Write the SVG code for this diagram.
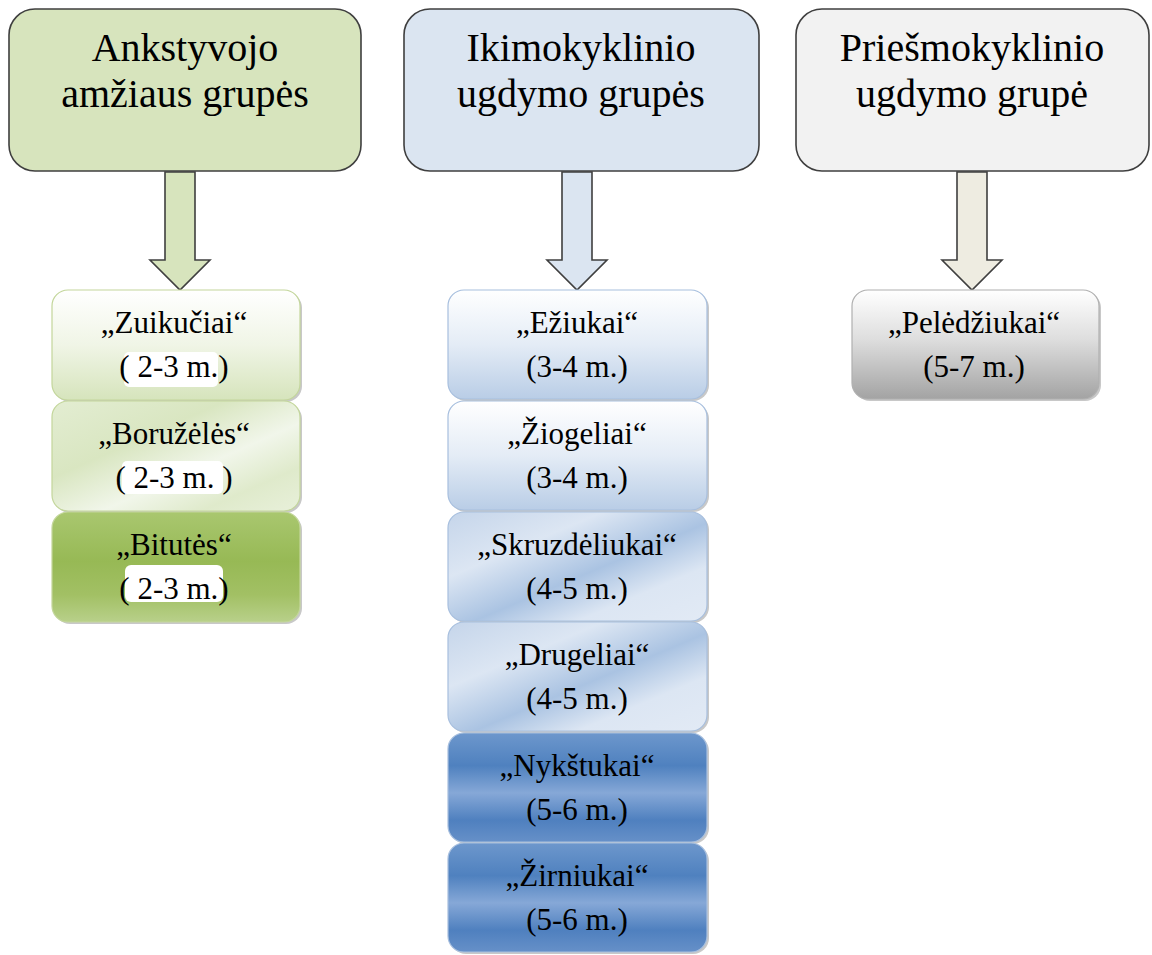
<svg xmlns="http://www.w3.org/2000/svg" width="1152" height="955" viewBox="0 0 1152 955" font-family="Times New Roman">
<defs>
<style>
.hdr{stroke:#3f3f3f;stroke-width:1.6}
.arr{stroke:#3f3f3f;stroke-width:1.6}
.sh{fill:#9a9a9a;opacity:0.55}
.bl{stroke:#c3d69b;stroke-width:1.2}
.bb{stroke:#a7bfde;stroke-width:1.2}
.bg{stroke:#b0b0b0;stroke-width:1.2}
</style>
<linearGradient id="gL1" x1="0" y1="0" x2="0" y2="1">
<stop offset="0" stop-color="#ffffff"/><stop offset="0.5" stop-color="#f0f5e6"/><stop offset="1" stop-color="#d6e4bc"/>
</linearGradient>
<linearGradient id="gL2" x1="0" y1="0" x2="1" y2="1">
<stop offset="0" stop-color="#e3edd2"/><stop offset="0.35" stop-color="#d9e6c1"/><stop offset="0.6" stop-color="#f1f6ea"/><stop offset="0.8" stop-color="#dfeacb"/><stop offset="1" stop-color="#e8f0da"/>
</linearGradient>
<linearGradient id="gL3" x1="0" y1="0" x2="0" y2="1">
<stop offset="0" stop-color="#a9c76f"/><stop offset="0.45" stop-color="#97b955"/><stop offset="0.75" stop-color="#a2c064"/><stop offset="1" stop-color="#b8d08a"/>
</linearGradient>
<linearGradient id="gB1" x1="0" y1="0" x2="0" y2="1">
<stop offset="0" stop-color="#ffffff"/><stop offset="0.5" stop-color="#e4ecf6"/><stop offset="1" stop-color="#b9cde6"/>
</linearGradient>
<linearGradient id="gB2" x1="0" y1="0" x2="1" y2="1">
<stop offset="0" stop-color="#c5d5ea"/><stop offset="0.3" stop-color="#dce6f3"/><stop offset="0.55" stop-color="#aac3e2"/><stop offset="0.75" stop-color="#dce6f3"/><stop offset="1" stop-color="#e2eaf5"/>
</linearGradient>
<linearGradient id="gB3" x1="0" y1="0" x2="0" y2="1">
<stop offset="0" stop-color="#6d97cc"/><stop offset="0.3" stop-color="#4f81bf"/><stop offset="0.55" stop-color="#86a8d7"/><stop offset="0.8" stop-color="#4f80bf"/><stop offset="1" stop-color="#6690c8"/>
</linearGradient>
<linearGradient id="gG" x1="0" y1="0" x2="0" y2="1">
<stop offset="0" stop-color="#ffffff"/><stop offset="0.45" stop-color="#dedede"/><stop offset="1" stop-color="#a3a3a3"/>
</linearGradient>
</defs>

<g id="connectors">
<polygon class="arr" fill="#d7e4bd" points="165,172 195,172 195,260 210,260 180,290 150,260 165,260"/>
<polygon class="arr" fill="#dbe5f1" points="562,172 592,172 592,260 607,260 577,290 547,260 562,260"/>
<polygon class="arr" fill="#eeece1" points="957,172 987,172 987,260 1002,260 972,290 942,260 957,260"/>
</g>

<g id="hdr-ankstyvojo">
<rect class="hdr" x="9" y="9" width="352" height="162" rx="26" fill="#d7e4bd"/>
<text x="185" y="61" font-family="Times New Roman" font-size="40" text-anchor="middle">Ankstyvojo</text>
<text x="185" y="107" font-family="Times New Roman" font-size="40" text-anchor="middle">amžiaus grupės</text>
</g>
<g id="hdr-ikimokyklinio">
<rect class="hdr" x="404" y="9" width="355" height="162" rx="26" fill="#dbe5f1"/>
<text x="581" y="61" font-family="Times New Roman" font-size="40" text-anchor="middle">Ikimokyklinio</text>
<text x="581" y="107" font-family="Times New Roman" font-size="40" text-anchor="middle">ugdymo grupės</text>
</g>
<g id="hdr-priesmokyklinio">
<rect class="hdr" x="796" y="9" width="353" height="162" rx="26" fill="#f2f2f2"/>
<text x="972" y="61" font-family="Times New Roman" font-size="40" text-anchor="middle">Priešmokyklinio</text>
<text x="972" y="107" font-family="Times New Roman" font-size="40" text-anchor="middle">ugdymo grupė</text>
</g>

<g id="zuikuciai">
<rect class="sh" x="54" y="292" width="248" height="110" rx="16"/>
<rect class="bl" x="52" y="290" width="248" height="110" rx="16" fill="url(#gL1)"/>
<rect fill="#ffffff" x="124" y="352" width="94" height="35" rx="5"/>
<text x="174" y="333" font-family="Times New Roman" font-size="31" text-anchor="middle">„Zuikučiai“</text>
<text x="174" y="377" font-family="Times New Roman" font-size="31" text-anchor="middle">( 2-3 m.)</text>
</g>
<g id="boruzeles">
<rect class="sh" x="54" y="403" width="248" height="110" rx="16"/>
<rect class="bl" x="52" y="401" width="248" height="110" rx="16" fill="url(#gL2)"/>
<rect fill="#ffffff" x="122" y="461" width="101" height="33" rx="5"/>
<text x="174" y="444" font-family="Times New Roman" font-size="31" text-anchor="middle">„Boružėlės“</text>
<text x="174" y="488" font-family="Times New Roman" font-size="31" text-anchor="middle">( 2-3 m. )</text>
</g>
<g id="bitutes">
<rect class="sh" x="54" y="514" width="248" height="110" rx="16"/>
<rect class="bl" x="52" y="512" width="248" height="110" rx="16" fill="url(#gL3)"/>
<rect fill="#ffffff" x="125" y="565" width="98" height="37" rx="6"/>
<text x="174" y="555" font-family="Times New Roman" font-size="31" text-anchor="middle">„Bitutės“</text>
<text x="174" y="599" font-family="Times New Roman" font-size="31" text-anchor="middle">( 2-3 m.)</text>
</g>

<g id="eziukai">
<rect class="sh" x="450" y="292" width="259" height="109" rx="16"/>
<rect class="bb" x="448" y="290" width="259" height="109" rx="16" fill="url(#gB1)"/>
<text x="577" y="333" font-family="Times New Roman" font-size="31" text-anchor="middle">„Ežiukai“</text>
<text x="577" y="377" font-family="Times New Roman" font-size="31" text-anchor="middle">(3-4 m.)</text>
</g>
<g id="ziogeliai">
<rect class="sh" x="450" y="403" width="259" height="109" rx="16"/>
<rect class="bb" x="448" y="401" width="259" height="109" rx="16" fill="url(#gB1)"/>
<text x="577" y="444" font-family="Times New Roman" font-size="31" text-anchor="middle">„Žiogeliai“</text>
<text x="577" y="488" font-family="Times New Roman" font-size="31" text-anchor="middle">(3-4 m.)</text>
</g>
<g id="skruzdeliukai">
<rect class="sh" x="450" y="514" width="259" height="109" rx="16"/>
<rect class="bb" x="448" y="512" width="259" height="109" rx="16" fill="url(#gB2)"/>
<text x="577" y="555" font-family="Times New Roman" font-size="31" text-anchor="middle">„Skruzdėliukai“</text>
<text x="577" y="599" font-family="Times New Roman" font-size="31" text-anchor="middle">(4-5 m.)</text>
</g>
<g id="drugeliai">
<rect class="sh" x="450" y="624" width="259" height="109" rx="16"/>
<rect class="bb" x="448" y="622" width="259" height="109" rx="16" fill="url(#gB2)"/>
<text x="577" y="665" font-family="Times New Roman" font-size="31" text-anchor="middle">„Drugeliai“</text>
<text x="577" y="709" font-family="Times New Roman" font-size="31" text-anchor="middle">(4-5 m.)</text>
</g>
<g id="nykstukai">
<rect class="sh" x="450" y="735" width="259" height="109" rx="16"/>
<rect class="bb" x="448" y="733" width="259" height="109" rx="16" fill="url(#gB3)"/>
<text x="577" y="776" font-family="Times New Roman" font-size="31" text-anchor="middle">„Nykštukai“</text>
<text x="577" y="820" font-family="Times New Roman" font-size="31" text-anchor="middle">(5-6 m.)</text>
</g>
<g id="zirniukai">
<rect class="sh" x="450" y="845" width="259" height="109" rx="16"/>
<rect class="bb" x="448" y="843" width="259" height="109" rx="16" fill="url(#gB3)"/>
<text x="577" y="886" font-family="Times New Roman" font-size="31" text-anchor="middle">„Žirniukai“</text>
<text x="577" y="930" font-family="Times New Roman" font-size="31" text-anchor="middle">(5-6 m.)</text>
</g>

<g id="peledziukai">
<rect class="sh" x="854" y="292" width="247" height="109" rx="16"/>
<rect class="bg" x="852" y="290" width="247" height="109" rx="16" fill="url(#gG)"/>
<text x="974" y="333" font-family="Times New Roman" font-size="31" text-anchor="middle">„Pelėdžiukai“</text>
<text x="974" y="377" font-family="Times New Roman" font-size="31" text-anchor="middle">(5-7 m.)</text>
</g>
</svg>
